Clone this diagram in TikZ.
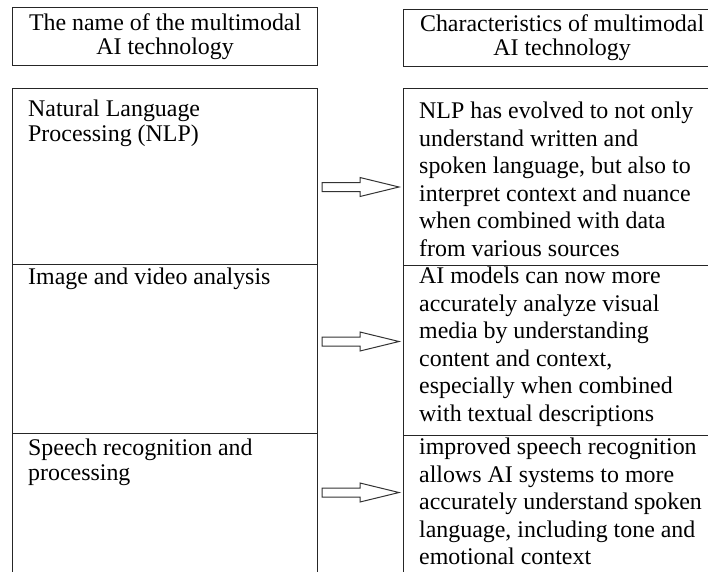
\documentclass[tikz,border=0pt]{standalone}
\usepackage{fontspec}
\setmainfont{Liberation Serif}
\usetikzlibrary{positioning}

\tikzset{
  cell/.style={draw=black!85, line width=1.2pt, inner sep=0pt, anchor=north west},
  hdtxt/.style={align=center, font=\fontsize{23.9}{24}\selectfont},
  ltxt/.style={inner sep=0pt, anchor=north west, align=left, font=\fontsize{23.9}{25}\selectfont},
  rtxt/.style={inner sep=0pt, anchor=north west, align=left, font=\fontsize{23.9}{27.5}\selectfont},
  blk/.style={draw=black!80, line width=1pt, fill=white, line join=miter},
}

\begin{document}
\begin{tikzpicture}[x=1pt, y=-1pt]
  \useasboundingbox (0,0) rectangle (708,571);
  \clip (0,0) rectangle (708,571);
  % headers
  \node[cell, hdtxt, minimum width=305pt, minimum height=58pt] (hname) at (12,7) {The name of the multimodal\\AI technology};
  \node[cell, hdtxt, minimum width=317pt, minimum height=57pt] (hchar) at (403,9) {Characteristics of multimodal\\AI technology};
  % left column
  \node[cell, minimum width=305pt, minimum height=176pt] (nlp) at (12,88) {};
  \node[cell, minimum width=305pt, minimum height=169pt] (img) at (12,264) {};
  \node[cell, minimum width=305pt, minimum height=170pt] (sp) at (12,433) {};
  % right column
  \node[cell, minimum width=317pt, minimum height=177pt] (nlpc) at (403,88) {};
  \node[cell, minimum width=317pt, minimum height=170pt] (imgc) at (403,265) {};
  \node[cell, minimum width=317pt, minimum height=170pt] (spc) at (403,435) {};
  % texts
  \node[ltxt] (nlpt) at (28,100) {Natural Language\\Processing (NLP)};
  \node[ltxt] (imgt) at (28,268) {Image and video analysis};
  \node[ltxt] (spt) at (28,439) {Speech recognition and\\processing};
  \node[rtxt] (nlpct) at (419,102) {NLP has evolved to not only\\understand written and\\spoken language, but also to\\interpret context and nuance\\when combined with data\\from various sources};
  \node[rtxt] (imgct) at (419,267) {AI models can now more\\accurately analyze visual\\media by understanding\\content and context,\\especially when combined\\with textual descriptions};
  \node[rtxt] (spct) at (419,438) {improved speech recognition\\allows AI systems to more\\accurately understand spoken\\language, including tone and\\emotional context};
  % arrows
  \foreach \n/\y in {1/187, 2/341.5, 3/492.5}{
    \coordinate (a\n) at (322,\y);
    \draw[blk] (a\n) ++(0,-4.5) -- ++(38,0) -- ++(0,-5) -- ++(39,9.5) -- ++(-39,9.5) -- ++(0,-5) -- ++(-38,0) -- cycle;
  }
\end{tikzpicture}
\end{document}
